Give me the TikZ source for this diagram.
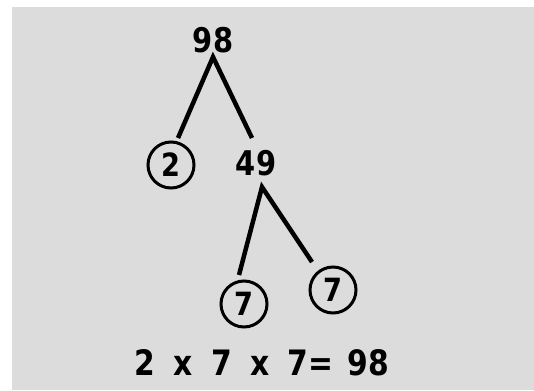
\documentclass[tikz,border=0pt]{standalone}
\usepackage{fontspec}
\setmainfont{DejaVu Sans}[FakeStretch=0.85]
\definecolor{bggray}{RGB}{220,220,220}
\begin{document}
\begin{tikzpicture}[x=1pt,y=-1pt,
  num/.style={inner sep=0pt, font=\fontsize{34}{34}\selectfont\bfseries},
  circled/.style={draw, circle, line width=3pt, minimum size=46pt, inner sep=0pt,
    font=\fontsize{32}{32}\selectfont\bfseries},
  branch/.style={line width=4.5pt, line join=miter}]
\useasboundingbox (0,0) rectangle (534,390);
\fill[white] (0,0) rectangle (534,390);
\fill[bggray] (12,7) rectangle (534,390);
% nodes
\node[num] (n98) at (213,40) {98};
\node[circled] (c2) at (171,165) {2};
\node[num] (n49) at (256,163) {49};
\node[circled] (c7a) at (244,304) {7};
\node[circled] (c7b) at (333,290) {7};
\node[num, font=\fontsize{35}{35}\selectfont\bfseries] (eq) at (262,363) {2\hspace{8pt} x\hspace{8pt} 7\hspace{8pt} x\hspace{8pt} 7=\hspace{4pt} 98};
% branch points
\coordinate (a1) at (213,57);
\coordinate (e2) at (178,138);
\coordinate (e49) at (252,138);
\coordinate (a2) at (262,187);
\coordinate (e7a) at (239,275);
\coordinate (e7b) at (312,262);
\draw[branch] (e2) -- (a1) -- (e49);
\draw[branch] (e7a) -- (a2) -- (e7b);
\end{tikzpicture}
\end{document}
